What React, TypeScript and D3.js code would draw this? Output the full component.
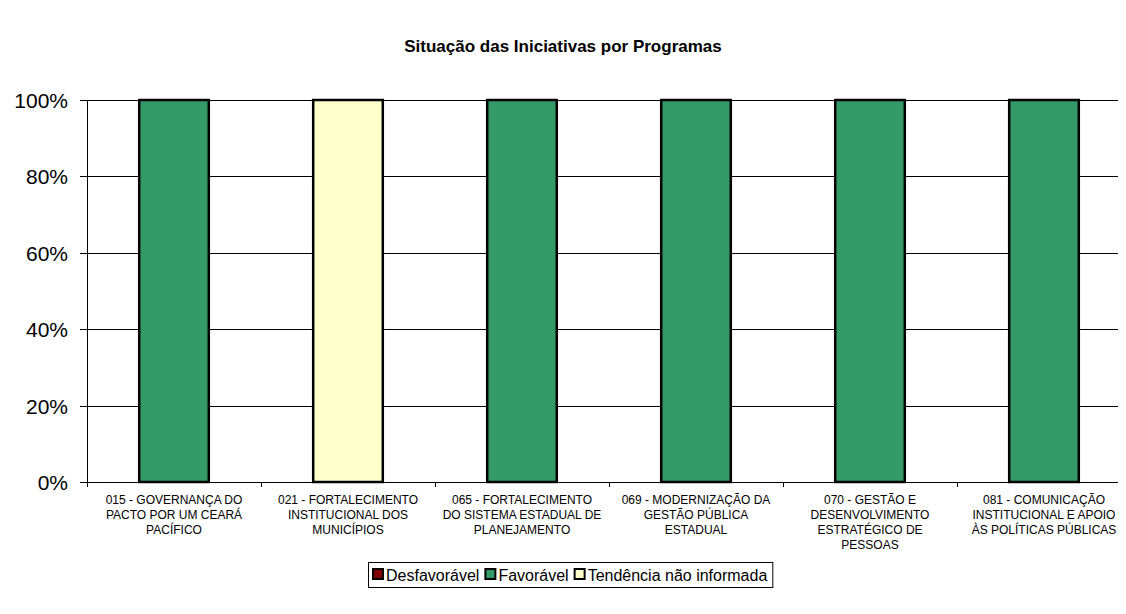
import React, { useEffect, useRef } from "react";
import * as d3 from "d3";

const programas = [
  ["015 - GOVERNANÇA DO", "PACTO POR UM CEARÁ", "PACÍFICO"],
  ["021 - FORTALECIMENTO", "INSTITUCIONAL DOS", "MUNICÍPIOS"],
  ["065 - FORTALECIMENTO", "DO SISTEMA ESTADUAL DE", "PLANEJAMENTO"],
  ["069 - MODERNIZAÇÃO DA", "GESTÃO PÚBLICA", "ESTADUAL"],
  ["070 - GESTÃO E", "DESENVOLVIMENTO", "ESTRATÉGICO DE", "PESSOAS"],
  ["081 - COMUNICAÇÃO", "INSTITUCIONAL E APOIO", "ÀS POLÍTICAS PÚBLICAS"],
];

const series = ["Desfavorável", "Favorável", "Tendência não informada"];
const desfavoravel = [0, 0, 0, 0, 0, 0];
const favoravel = [100, 0, 100, 100, 100, 100];
const tendencia = [0, 100, 0, 0, 0, 0];
const yTicks = [0, 0.2, 0.4, 0.6, 0.8, 1];

const colors = ["#800000", "#339966", "#FFFFCC"];
const font = "Arial, 'Liberation Sans', sans-serif";

const width = 1126;
const height = 614;

const App = () => {
  const ref = useRef(null);

  useEffect(() => {
    const svg = d3.select(ref.current);
    svg.selectAll("*").remove();

    const margin = { left: 87, top: 100, bottom: 482 };
    const band = 174;

    const rows = programas.map((p, i) => ({
      key: i,
      "Desfavorável": desfavoravel[i],
      "Favorável": favoravel[i],
      "Tendência não informada": tendencia[i],
    }));
    const stacked = d3.stack().keys(series).offset(d3.stackOffsetExpand)(rows);

    const x = d3
      .scaleBand()
      .domain(programas.map((p, i) => i))
      .range([margin.left, margin.left + band * programas.length])
      .paddingInner(0.6)
      .paddingOuter(0.3);

    const y = d3.scaleLinear().domain([0, 1]).range([margin.bottom, margin.top]);

    // title
    svg
      .append("text")
      .attr("x", 563)
      .attr("y", 52)
      .attr("text-anchor", "middle")
      .style("font-family", font)
      .style("font-size", "17px")
      .style("font-weight", "bold")
      .text("Situação das Iniciativas por Programas");

    // gridlines
    svg
      .append("g")
      .selectAll("line")
      .data(yTicks)
      .enter()
      .append("line")
      .attr("x1", margin.left - 7)
      .attr("x2", width)
      .attr("y1", (d) => Math.round(y(d)) + 0.5)
      .attr("y2", (d) => Math.round(y(d)) + 0.5)
      .attr("stroke", "#000")
      .attr("stroke-width", 1);

    // y labels
    svg
      .append("g")
      .selectAll("text")
      .data(yTicks)
      .enter()
      .append("text")
      .attr("x", 68)
      .attr("y", (d) => y(d) + 8)
      .attr("text-anchor", "end")
      .style("font-family", font)
      .style("font-size", "21px")
      .text((d) => d3.format(".0%")(d));

    // y axis
    svg
      .append("line")
      .attr("x1", margin.left + 0.5)
      .attr("x2", margin.left + 0.5)
      .attr("y1", margin.top)
      .attr("y2", margin.bottom + 4)
      .attr("stroke", "#000");

    // x ticks
    svg
      .append("g")
      .selectAll("line")
      .data(d3.range(programas.length + 1))
      .enter()
      .append("line")
      .attr("x1", (d) => margin.left + d * band + 0.5)
      .attr("x2", (d) => margin.left + d * band + 0.5)
      .attr("y1", margin.bottom)
      .attr("y2", margin.bottom + 5)
      .attr("stroke", "#000");

    // bars
    svg
      .append("g")
      .selectAll("g")
      .data(stacked)
      .enter()
      .append("g")
      .attr("fill", (d, i) => colors[i])
      .selectAll("rect")
      .data((d) => d.filter((v) => v[1] - v[0] > 0))
      .enter()
      .append("rect")
      .attr("x", (d) => x(d.data.key))
      .attr("width", x.bandwidth())
      .attr("y", (d) => y(d[1]))
      .attr("height", (d) => y(d[0]) - y(d[1]))
      .attr("stroke", "#000")
      .attr("stroke-width", 2.5);

    // x labels
    const labels = svg
      .append("g")
      .selectAll("text")
      .data(programas)
      .enter()
      .append("text")
      .attr("text-anchor", "middle")
      .style("font-family", font)
      .style("font-size", "12px");
    labels
      .selectAll("tspan")
      .data((d, i) => d.map((line) => ({ line, i })))
      .enter()
      .append("tspan")
      .attr("x", (d) => margin.left + band * d.i + band / 2)
      .attr("y", (d, j) => 504 + j * 15)
      .text((d) => d.line);

    // legend
    const legend = svg.append("g");
    const box = legend
      .append("rect")
      .attr("fill", "#fff")
      .attr("stroke", "#000")
      .attr("stroke-width", 1);
    let cx = 0;
    series.forEach((s, i) => {
      legend
        .append("rect")
        .attr("x", cx + 5)
        .attr("y", 569)
        .attr("width", 10)
        .attr("height", 10)
        .attr("fill", colors[i])
        .attr("stroke", "#000")
        .attr("stroke-width", 2);
      const t = legend
        .append("text")
        .attr("x", cx + 18)
        .attr("y", 581)
        .style("font-family", font)
        .style("font-size", "16px")
        .text(s);
      cx += 18 + t.node().getComputedTextLength() + 1;
    });
    const lw = cx + 4;
    box
      .attr("x", 0.5)
      .attr("y", 562.5)
      .attr("width", lw)
      .attr("height", 25);
    legend.attr("transform", `translate(${Math.round(570 - lw / 2)},0)`);
  }, []);

  return <svg ref={ref} width={width} height={height} style={{ display: "block", margin: "-8px" }}></svg>;
};

export default App;
